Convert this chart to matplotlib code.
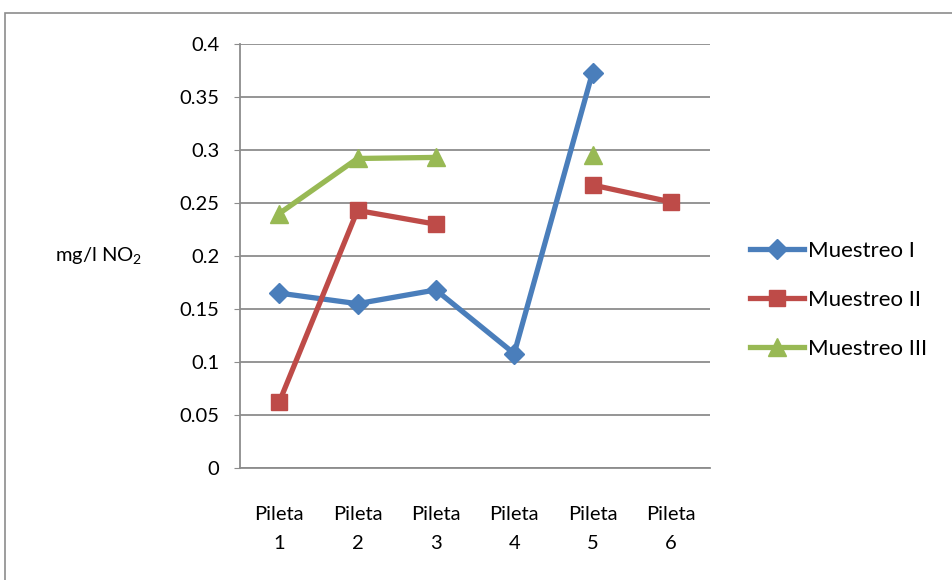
import numpy as np
import matplotlib
matplotlib.use("Agg")
import matplotlib.pyplot as plt
from matplotlib.patches import Rectangle

plt.rcParams['font.family'] = ['Lato', 'DejaVu Sans']
plt.rcParams['mathtext.fontset'] = 'custom'
plt.rcParams['mathtext.rm'] = 'Lato'
plt.rcParams['mathtext.it'] = 'Lato'

categories = ["Pileta\n1", "Pileta\n2", "Pileta\n3", "Pileta\n4", "Pileta\n5", "Pileta\n6"]
muestreo_1 = [0.165, 0.155, 0.168, 0.108, 0.373, np.nan]
muestreo_2 = [0.062, 0.243, 0.230, np.nan, 0.267, 0.251]
muestreo_3 = [0.240, 0.292, 0.293, np.nan, 0.295, np.nan]
yticks = [0, 0.05, 0.1, 0.15, 0.2, 0.25, 0.3, 0.35, 0.4]
ytick_labels = ["0", "0.05", "0.1", "0.15", "0.2", "0.25", "0.3", "0.35", "0.4"]

fig = plt.figure(figsize=(9.52, 5.8), dpi=100)
ax = fig.add_axes([240 / 952, 1 - 468 / 580, 470 / 952, 424 / 580])

# chart frame
fig.patches.append(Rectangle((5 / 952, -0.1), 1.1, 1 - 13 / 580 + 0.1,
                             transform=fig.transFigure, fill=False,
                             edgecolor="#8c8c8c", linewidth=1.2))

x = np.arange(len(categories))
ax.plot(x, muestreo_1, color="#4a7ebb", lw=3.8, marker="D", ms=10,
        label="Muestreo I")
ax.plot(x, muestreo_2, color="#be4b48", lw=3.8, marker="s", ms=12,
        label="Muestreo II")
ax.plot(x, muestreo_3, color="#98b954", lw=3.8, marker="^", ms=13,
        label="Muestreo III")

ax.set_xlim(-0.5, len(categories) - 0.5)
ax.set_ylim(0, 0.4)
ax.set_yticks(yticks)
ax.set_yticklabels(ytick_labels, fontsize=14.5)
ax.set_xticks(x)
ax.set_xticklabels(categories, fontsize=14.5, linespacing=1.9)
ax.yaxis.grid(True, color="#8c8c8c", lw=1.3)
ax.set_axisbelow(True)
for s in ["top", "right"]:
    ax.spines[s].set_visible(False)
for s in ["left", "bottom"]:
    ax.spines[s].set_color("#8c8c8c")
    ax.spines[s].set_linewidth(1.3)
ax.tick_params(axis="y", length=4, color="#8c8c8c", pad=11)
ax.tick_params(axis="x", length=0, pad=27)

ax.set_ylabel("mg/l NO$_2$", fontsize=14.5, rotation=0, labelpad=58, va="center")

ax.legend(loc="center left", bbox_to_anchor=(1.085, 0.396), frameon=False,
          fontsize=16, labelspacing=1.3, handlelength=2.45, handletextpad=0.15,
          borderpad=0, borderaxespad=0)

fig.savefig("out.png", dpi=100)
